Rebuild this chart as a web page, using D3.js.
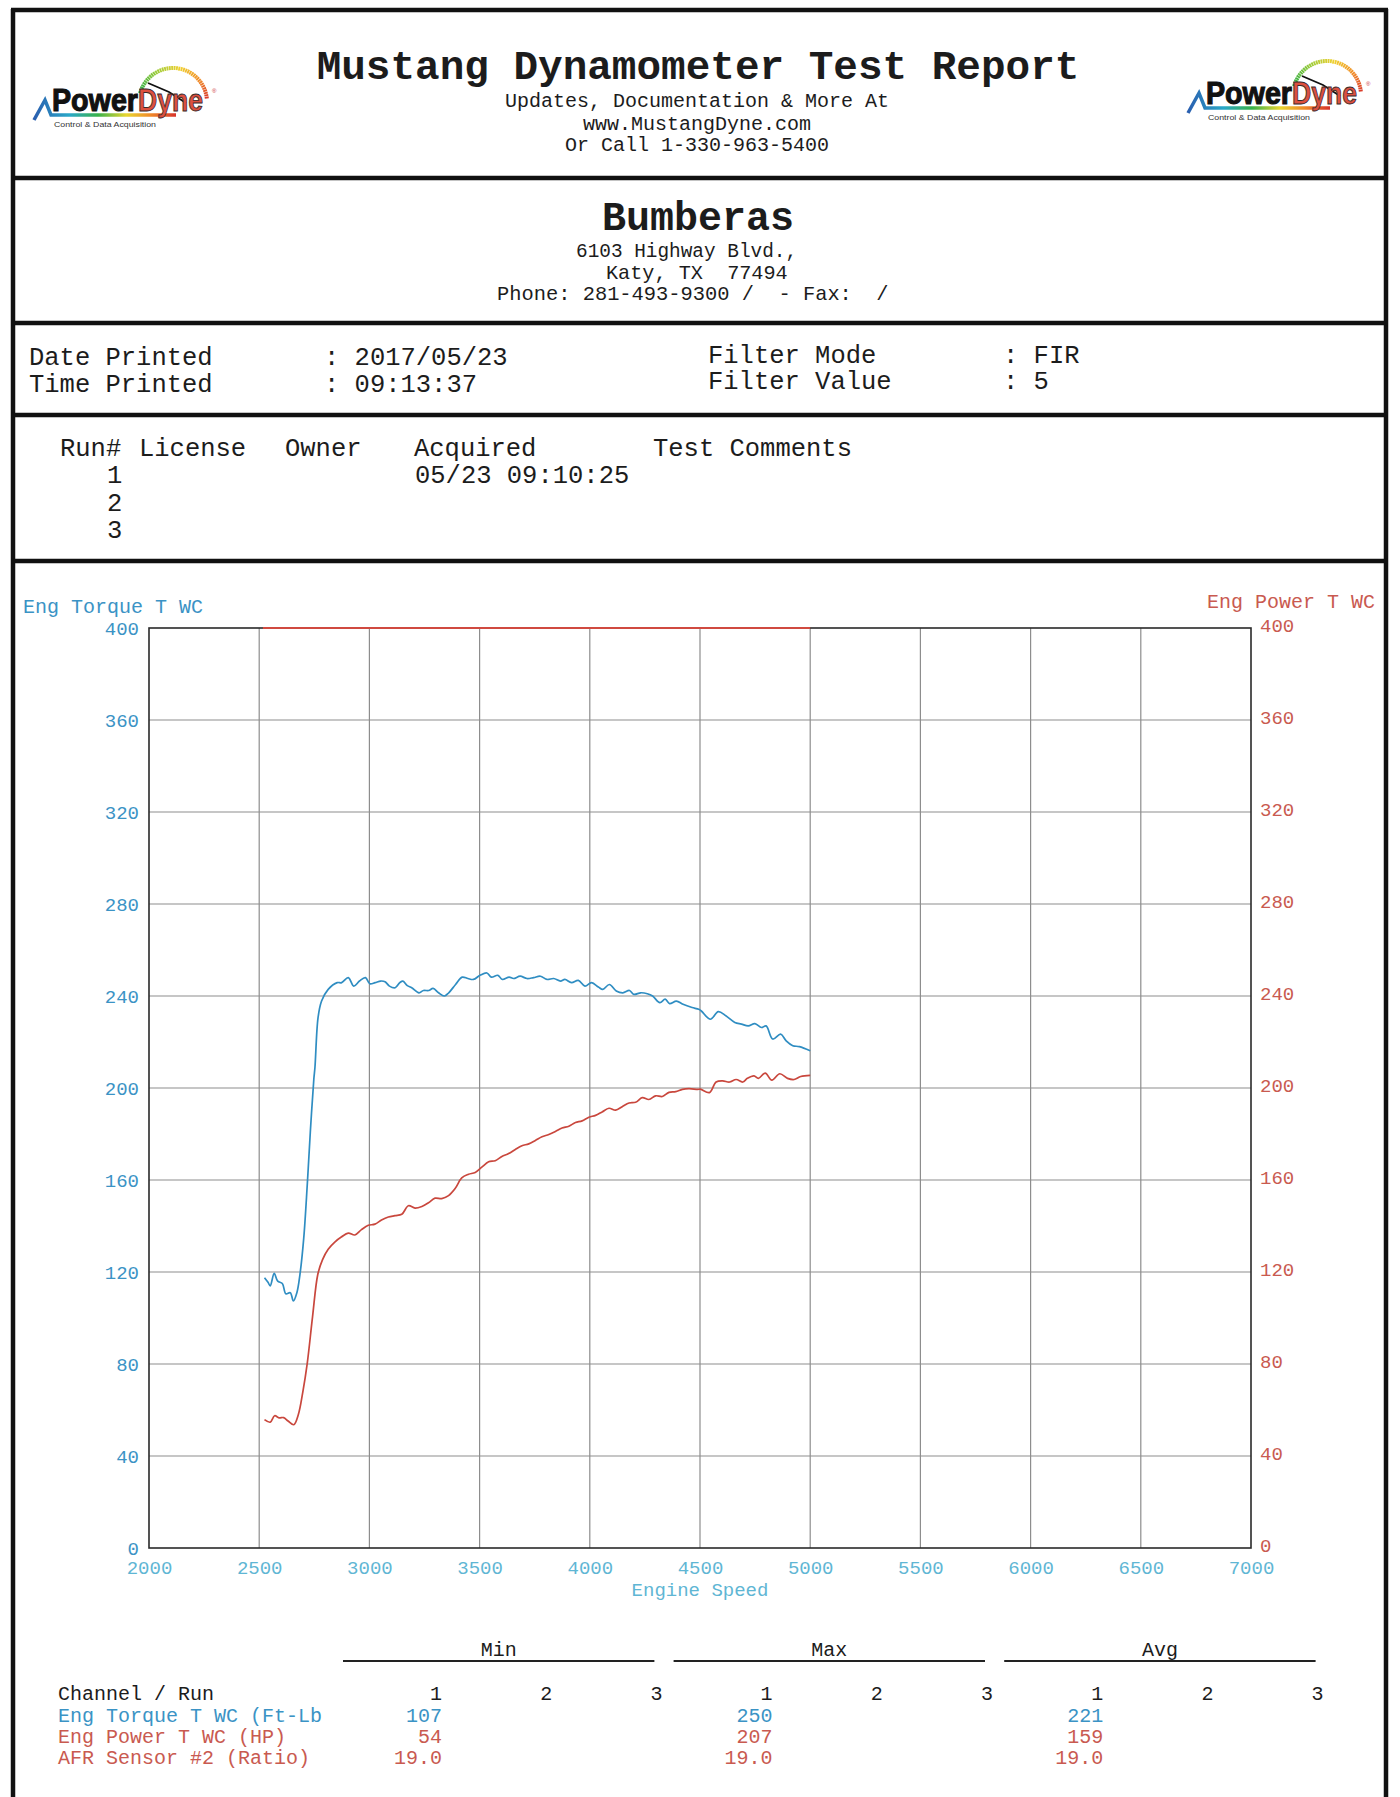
<!DOCTYPE html>
<html><head><meta charset="utf-8">
<script src="https://cdn.jsdelivr.net/npm/d3@7"></script>
<style>
html,body{margin:0;padding:0;background:#fff;}
svg{display:block;}
text{font-family:"Liberation Mono","DejaVu Sans Mono",monospace;white-space:pre;}
</style></head><body>
<div id="chart"></div>
<script>
// ---------------- DATA ----------------
const xTicks = [2000, 2500, 3000, 3500, 4000, 4500, 5000, 5500, 6000, 6500, 7000];
const torqueTicks = [0, 40, 80, 120, 160, 200, 240, 280, 320, 360, 400];
const powerTicks = [0, 40, 80, 120, 160, 200, 240, 280, 320, 360, 400];

const torqueRpm = [2524,2540,2550,2568,2584,2605,2621,2641,2655,2671,2685,2702,2718,2732,2748,2753,2767,2783,2813,2854,2874,2904,2929,2955,2982,3002,3026,3051,3071,3091,3117,3138,3152,3172,3192,3225,3245,3269,3289,3314,3340,3360,3391,3421,3447,3472,3502,3533,3553,3583,3603,3634,3654,3684,3715,3745,3776,3806,3836,3867,3887,3917,3948,3978,4008,4039,4059,4089,4120,4150,4180,4200,4231,4261,4285,4318,4342,4362,4393,4423,4464,4494,4506,4547,4583,4617,4658,4688,4719,4749,4779,4800,4830,4866,4891,4921,4951,5000];
const torqueValues = [117.5,115.5,114,119.4,116,115,110.5,111,107.4,111,119,134.6,157.8,181,204,209,230.6,237.8,242.9,245.8,245.8,248,244.3,246.5,248,245.3,245.8,246.5,246.2,244.3,243.6,245.8,246.5,244.5,243.6,241.4,242.4,242.4,243.3,241.4,240,241.4,245,248.2,247.6,247.2,249,250,248.2,249,247.2,248.2,247.6,248.6,247.6,248,248.6,247.2,247.6,246.5,247.2,245.8,246.8,244.3,245.8,243.9,242.9,245,242.2,241.4,242.4,240.7,241.4,241,240,237.1,238.6,236.7,237.8,236.4,235,234.2,233.5,229.9,233.2,231.4,228.5,227.8,227,228,226.3,227,221.3,223.4,220.5,218.4,218,216.2];

const powerRpm = [2524,2550,2570,2590,2611,2631,2657,2677,2698,2718,2742,2766,2787,2813,2843,2874,2904,2934,2964,2995,3025,3055,3086,3116,3147,3177,3207,3238,3268,3298,3328,3359,3389,3419,3450,3480,3510,3541,3571,3601,3632,3662,3692,3723,3753,3783,3814,3844,3874,3905,3935,3965,3996,4026,4056,4087,4117,4147,4178,4208,4238,4268,4299,4329,4359,4390,4420,4450,4490,4502,4543,4573,4603,4634,4664,4694,4715,4745,4765,4796,4826,4862,4897,4927,4957,5000];
const powerValues = [55.8,54.7,57.5,56.6,56.7,55.2,53.6,57.8,67.9,80.3,100.5,119,125.3,129.9,133,135.3,136.9,136.1,138.4,140.3,140.8,142.6,143.9,144.5,145.1,148.8,147.8,148.5,150.1,152.1,151.9,153.2,156.3,160.9,162.5,163.3,165.6,167.9,168.4,170.2,171.5,173.3,174.9,175.7,177.2,178.8,179.8,181.1,182.6,183.4,185,185.7,187.3,188.1,189.6,191.2,190.4,191.9,193.5,193.8,195.8,195,196.6,196.3,198.1,198.4,199.4,199.7,199.4,199.5,198,202.6,203.1,202.6,203.7,202.6,204.2,205.3,204.2,206.5,203.4,206.2,204.2,203.7,205,205.5];

const afrRpm = [2517, 5000];
const afrValues = [19.0, 19.0];

const statGroups = ["Min", "Max", "Avg"];
const statRuns = ["1", "2", "3"];
const statChannels = ["Eng Torque T WC (Ft-Lb", "Eng Power T WC (HP)", "AFR Sensor #2 (Ratio)"];
const statMin = ["107", "54", "19.0"];
const statMax = ["250", "207", "19.0"];
const statAvg = ["221", "159", "19.0"];

// ---------------- STYLE ----------------
const BLUE = "#2f8dc2", BLUE_T = "#3b93c5", RED = "#c9473d", RED_T = "#c95a50", CYAN = "#5fb6d4", INK = "#1c1c1c";

const W = 1400, H = 1797;
const svg = d3.select("#chart").append("svg").attr("width", W).attr("height", H);
svg.append("rect").attr("width", W).attr("height", H).attr("fill", "#fff");

// frame
const frame = svg.append("g").attr("stroke", "#111").attr("stroke-width", 4.5);
frame.append("line").attr("x1", 13).attr("x2", 13).attr("y1", 9).attr("y2", H);
frame.append("line").attr("x1", 1386).attr("x2", 1386).attr("y1", 9).attr("y2", H);
[10, 178, 323, 415, 561].forEach(y => frame.append("line").attr("x1", 11).attr("x2", 1388).attr("y1", y).attr("y2", y));

// ---------------- LOGO ----------------
function drawLogo(x0, y0, id) {
  const g = svg.append("g").attr("transform", `translate(${x0},${y0})`);
  const defs = svg.append("defs");
  const lg = defs.append("linearGradient").attr("id", "ug" + id).attr("x1", "0%").attr("x2", "100%");
  [["0%", "#2a5fb0"], ["25%", "#2aa8c8"], ["45%", "#38b24a"], ["65%", "#e8d630"], ["82%", "#f08a2a"], ["100%", "#d8332a"]]
    .forEach(([o, c]) => lg.append("stop").attr("offset", o).attr("stop-color", c));
  // gauge arc
  const cx = 147, cy = 41, r = 34;
  const arcCols = d3.scaleLinear().domain([-165, -120, -80, -40, -5]).range(["#2cae4a", "#9ccc3a", "#f0d030", "#f08a2a", "#d8332a"]);
  for (let a = -165; a < -5; a += 4) {
    const a1 = a * Math.PI / 180, a2 = (a + 3.2) * Math.PI / 180;
    g.append("path").attr("d", `M${cx + r * Math.cos(a1)},${cy + r * Math.sin(a1)} A${r},${r} 0 0 1 ${cx + r * Math.cos(a2)},${cy + r * Math.sin(a2)}`)
      .attr("fill", "none").attr("stroke", arcCols(a)).attr("stroke-width", 4);
  }
  g.append("path").attr("d", "M122,22 L143,31 L160,42").attr("fill", "none").attr("stroke", "#111").attr("stroke-width", 1.8);
  // peak + underline
  g.append("path").attr("d", "M8,59 L19,39 L25,54 L150,54").attr("fill", "none").attr("stroke", `url(#ug${id})`).attr("stroke-width", 3.5);
  g.append("text").text("Power").attr("x", 26).attr("y", 50).attr("textLength", 86).attr("lengthAdjust", "spacingAndGlyphs")
    .style("font-family", "'Liberation Sans Narrow','Liberation Sans',Arial,sans-serif").style("font-weight", "bold").style("font-size", "31px")
    .attr("fill", "#111").attr("stroke", "#111").attr("stroke-width", 1.1);
  g.append("text").text("Dyne").attr("x", 112).attr("y", 50).attr("textLength", 65).attr("lengthAdjust", "spacingAndGlyphs")
    .style("font-family", "'Liberation Sans Narrow','Liberation Sans',Arial,sans-serif").style("font-weight", "bold").style("font-size", "31px")
    .attr("fill", "#dc5040").attr("stroke", "#3a2a2a").attr("stroke-width", 0.9);
  g.append("text").text("®").attr("x", 186).attr("y", 32).style("font-family", "Arial,sans-serif").style("font-size", "6px").attr("fill", "#c33");
  g.append("text").text("Control & Data Acquisition").attr("x", 28).attr("y", 66).attr("textLength", 102).attr("lengthAdjust", "spacingAndGlyphs")
    .style("font-family", "'Liberation Sans',Arial,sans-serif").style("font-size", "7px").attr("fill", "#333");
}
drawLogo(26, 61, "L");
drawLogo(1180, 54, "R");

// ---------------- HEADER TEXT ----------------
function txt(s, x, y, size, opts = {}) {
  return svg.append("text").text(s).attr("x", x).attr("y", y).style("font-size", size + "px")
    .attr("text-anchor", opts.anchor || "start").attr("fill", opts.fill || INK)
    .style("font-weight", opts.bold ? "bold" : "normal");
}
txt("Mustang Dynamometer Test Report", 698, 79, 41, { anchor: "middle", bold: true });
txt("Updates, Documentation & More At", 697, 107, 20, { anchor: "middle" });
txt("www.MustangDyne.com", 697, 130, 20, { anchor: "middle" });
txt("Or Call 1-330-963-5400", 697, 151, 20, { anchor: "middle" });

txt("Bumberas", 698, 230, 40, { anchor: "middle", bold: true });
txt("6103 Highway Blvd.,", 576, 257, 19.4);
txt("Katy, TX  77494", 606, 279, 20.2);
txt("Phone: 281-493-9300 /  - Fax:  /", 497, 300, 20.4);

txt("Date Printed", 29, 365, 25.5);
txt(": 2017/05/23", 324, 365, 25.5);
txt("Time Printed", 29, 392, 25.5);
txt(": 09:13:37", 324, 392, 25.5);
txt("Filter Mode", 708, 363, 25.5);
txt(": FIR", 1003, 363, 25.5);
txt("Filter Value", 708, 389, 25.5);
txt(": 5", 1003, 389, 25.5);

txt("Run#", 60, 456, 25.5);
txt("License", 139, 456, 25.5);
txt("Owner", 285, 456, 25.5);
txt("Acquired", 414, 456, 25.5);
txt("Test Comments", 653, 456, 25.5);
["1", "2", "3"].forEach((r, i) => txt(r, 107, 483 + i * 27.5, 25.5));
txt("05/23 09:10:25", 415, 483, 25.5);

// ---------------- CHART ----------------
const L = 149, R = 1251, T = 628, B = 1548;
const x = d3.scaleLinear().domain([2000, 7000]).range([L, R]);
const yT = d3.scaleLinear().domain([0, 400]).range([B, T]);
const yP = d3.scaleLinear().domain([0, 400]).range([B, T]);
const yA = d3.scaleLinear().domain([0, 19.0]).range([B, T]);

const grid = svg.append("g").attr("stroke", "#8d8d8d").attr("stroke-width", 1.2);
grid.selectAll(".vx").data(xTicks.slice(1, -1)).join("line")
  .attr("x1", d => x(d)).attr("x2", d => x(d)).attr("y1", T).attr("y2", B);
grid.selectAll(".hy").data(torqueTicks.slice(1, -1)).join("line")
  .attr("x1", L).attr("x2", R).attr("y1", d => yT(d)).attr("y2", d => yT(d));
svg.append("rect").attr("x", L).attr("y", T).attr("width", R - L).attr("height", B - T)
  .attr("fill", "none").attr("stroke", "#2a2a2a").attr("stroke-width", 1.6);

// axes
const axL = svg.append("g").attr("transform", `translate(${L},0)`)
  .call(d3.axisLeft(yT).tickValues(torqueTicks).tickSize(0).tickPadding(10).tickFormat(d3.format("d")));
axL.select(".domain").remove();
axL.selectAll("text").attr("fill", BLUE_T).style("font-size", "19px").style("font-family", "'Liberation Mono',monospace");

const axR = svg.append("g").attr("transform", `translate(${R},-3)`)
  .call(d3.axisRight(yP).tickValues(powerTicks).tickSize(0).tickPadding(9).tickFormat(d3.format("d")));
axR.select(".domain").remove();
axR.selectAll("text").attr("fill", RED_T).style("font-size", "19px").style("font-family", "'Liberation Mono',monospace");

const axB = svg.append("g").attr("transform", `translate(0,${B})`)
  .call(d3.axisBottom(x).tickValues(xTicks).tickSize(0).tickPadding(13).tickFormat(d3.format("d")));
axB.select(".domain").remove();
axB.selectAll("text").attr("fill", CYAN).style("font-size", "19px").style("font-family", "'Liberation Mono',monospace");

txt("Engine Speed", 700, 1596, 19, { anchor: "middle", fill: CYAN });
txt("Eng Torque T WC", 23, 613, 20, { fill: BLUE_T });
txt("Eng Power T WC", 1375, 608, 20, { anchor: "end", fill: RED_T });

// series
const afrLine = d3.line().x((d, i) => x(afrRpm[i])).y(d => yA(d));
svg.append("path").datum(afrValues).attr("d", afrLine).attr("fill", "none").attr("stroke", "#d04a40").attr("stroke-width", 1.8);

const tLine = d3.line().x((d, i) => x(torqueRpm[i])).y(d => yT(d)).curve(d3.curveCatmullRom);
svg.append("path").datum(torqueValues).attr("d", tLine).attr("fill", "none").attr("stroke", BLUE).attr("stroke-width", 1.7);

const pLine = d3.line().x((d, i) => x(powerRpm[i])).y(d => yP(d)).curve(d3.curveCatmullRom);
svg.append("path").datum(powerValues).attr("d", pLine).attr("fill", "none").attr("stroke", RED).attr("stroke-width", 1.7);

// ---------------- STATS TABLE ----------------
const colStep = 110.2, col0 = 442;
const colX = k => col0 + k * colStep;
statGroups.forEach((gName, g) => {
  const x1 = colX(g * 3) - 99, x2 = colX(g * 3 + 2) - 8;
  svg.append("line").attr("x1", x1).attr("x2", x2).attr("y1", 1661).attr("y2", 1661).attr("stroke", "#222").attr("stroke-width", 2);
  txt(gName, (x1 + x2) / 2, 1656, 20, { anchor: "middle" });
  statRuns.forEach((r, ri) => txt(r, colX(g * 3 + ri), 1700, 20, { anchor: "end" }));
});
txt("Channel / Run", 58, 1700, 20);
const rowCols = [BLUE_T, RED_T, RED_T];
const statSets = [statMin, statMax, statAvg];
statChannels.forEach((c, i) => {
  const yy = 1722 + i * 21.2;
  txt(c, 58, yy, 20, { fill: rowCols[i] });
  statSets.forEach((set, g) => txt(set[i], colX(g * 3), yy, 20, { anchor: "end", fill: rowCols[i] }));
});
</script>
</body></html>
